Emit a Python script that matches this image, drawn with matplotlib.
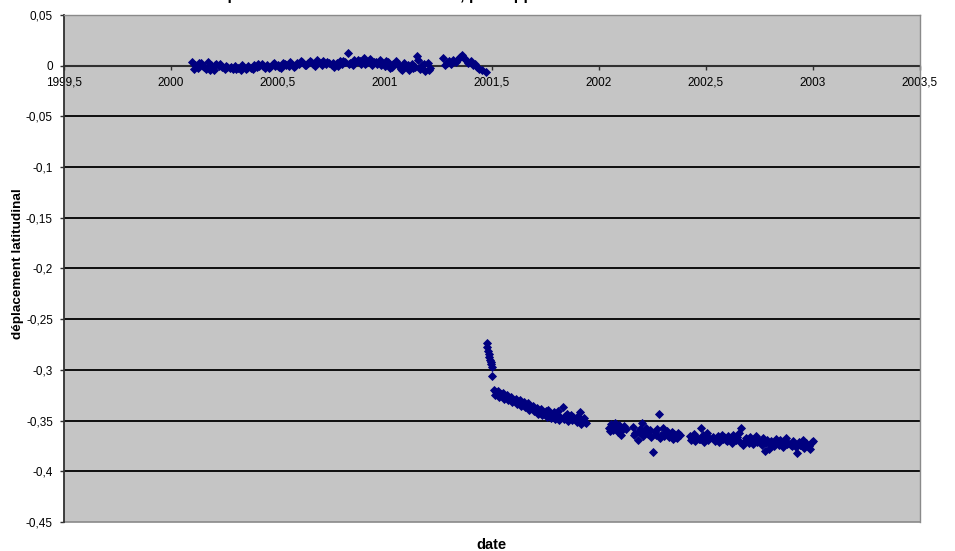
import matplotlib
matplotlib.use("Agg")
import matplotlib.pyplot as plt
from matplotlib.ticker import FixedLocator, FuncFormatter

plt.rcParams['font.family'] = ['Liberation Sans', 'DejaVu Sans']

# ---------------- data (decimal years, latitudinal displacement) ----------------
x_a = [2000.100, 2000.112, 2000.125, 2000.138, 2000.150, 2000.162, 2000.175, 2000.188, 2000.200, 2000.212,
       2000.225, 2000.238, 2000.250, 2000.262, 2000.275, 2000.288, 2000.300, 2000.312, 2000.325, 2000.338,
       2000.350, 2000.362, 2000.375, 2000.388, 2000.400, 2000.412, 2000.425, 2000.438, 2000.450, 2000.462,
       2000.475, 2000.488, 2000.500, 2000.512, 2000.525, 2000.538, 2000.550, 2000.562, 2000.575, 2000.588,
       2000.600, 2000.612, 2000.625, 2000.638, 2000.650, 2000.662, 2000.675, 2000.688, 2000.700, 2000.712,
       2000.725, 2000.738, 2000.750, 2000.762, 2000.775, 2000.788, 2000.800, 2000.812, 2000.825, 2000.838,
       2000.850, 2000.862, 2000.875, 2000.888, 2000.900, 2000.912, 2000.925, 2000.938, 2000.950, 2000.962,
       2000.975, 2000.988, 2001.000, 2001.012, 2001.025, 2001.038, 2001.050, 2001.062, 2001.075, 2001.088,
       2001.100, 2001.112, 2001.125, 2001.138, 2001.150, 2001.162, 2001.175, 2001.188, 2001.200, 2001.212]
y_a = [0.004, 0.001, -0.002, 0.003, 0.000, -0.003, 0.004, 0.001, -0.004, 0.002,
       0.000, -0.001, -0.003, -0.001, -0.002, -0.003, 0.000, -0.002, -0.004, -0.001,
       -0.003, 0.000, -0.002, 0.001, -0.001, 0.000, 0.002, -0.002, 0.001, -0.001,
       0.002, 0.000, 0.001, -0.002, 0.003, 0.001, 0.000, 0.002, -0.001, 0.003,
       0.002, 0.004, 0.001, 0.003, 0.005, 0.002, 0.000, 0.004, 0.003, 0.005,
       0.002, 0.003, 0.001, -0.001, 0.003, 0.005, 0.002, 0.004, 0.013, 0.003,
       0.001, 0.004, 0.006, 0.002, 0.008, 0.003, 0.005, 0.001, 0.004, 0.002,
       0.006, 0.003, 0.000, 0.004, -0.002, 0.002, 0.005, 0.001, -0.003, 0.003,
       0.000, -0.004, 0.002, -0.001, 0.010, -0.003, 0.001, -0.005, 0.003, -0.002]

x_a2 = [2000.106, 2000.131, 2000.156, 2000.181, 2000.206, 2000.231, 2000.256, 2000.281, 2000.306, 2000.331,
        2000.356, 2000.381, 2000.406, 2000.431, 2000.456, 2000.481, 2000.506, 2000.531, 2000.556, 2000.581,
        2000.606, 2000.631, 2000.656, 2000.681, 2000.706, 2000.731, 2000.756, 2000.781, 2000.806, 2000.831,
        2000.856, 2000.881, 2000.906, 2000.931, 2000.956, 2000.981, 2001.006, 2001.031, 2001.056, 2001.081,
        2001.106, 2001.131, 2001.156, 2001.181, 2001.206]
y_a2 = [-0.003, 0.003, -0.001, -0.004, 0.001, 0.002, 0.000, -0.001, -0.003, 0.001,
        -0.002, -0.003, 0.002, 0.000, -0.002, 0.003, -0.001, 0.002, 0.004, 0.000,
        0.005, 0.001, 0.004, 0.006, 0.001, 0.004, 0.003, 0.000, 0.005, 0.002,
        0.006, 0.005, 0.002, 0.007, 0.004, 0.001, 0.005, -0.001, 0.003, -0.004,
        0.001, -0.002, 0.006, 0.002, -0.004]

x_b = [2001.270, 2001.280, 2001.290, 2001.300, 2001.310, 2001.320, 2001.330, 2001.340, 2001.350, 2001.360,
       2001.370, 2001.380, 2001.390, 2001.400, 2001.410, 2001.420, 2001.430, 2001.440, 2001.455, 2001.470]
y_b = [0.008, 0.001, 0.003, 0.005, 0.002, 0.006, 0.004, 0.007, 0.009, 0.011,
       0.008, 0.006, 0.003, 0.005, 0.001, 0.002, -0.001, -0.003, -0.004, -0.006]

x_c = [2001.475, 2001.478, 2001.481, 2001.484, 2001.487, 2001.490, 2001.493, 2001.496, 2001.499, 2001.502]
y_c = [-0.273, -0.277, -0.281, -0.284, -0.287, -0.290, -0.292, -0.294, -0.297, -0.306]

x_d = [2001.510, 2001.520, 2001.530, 2001.540, 2001.550, 2001.560, 2001.570, 2001.580, 2001.590, 2001.600,
       2001.610, 2001.620, 2001.630, 2001.640, 2001.650, 2001.660, 2001.670, 2001.680, 2001.690, 2001.700,
       2001.710, 2001.720, 2001.730, 2001.740, 2001.750, 2001.760, 2001.770, 2001.780, 2001.790, 2001.800,
       2001.810, 2001.820, 2001.830, 2001.840, 2001.850, 2001.860, 2001.870, 2001.880, 2001.890, 2001.900,
       2001.910, 2001.920, 2001.930, 2001.940]
y_d = [-0.320, -0.322, -0.321, -0.324, -0.323, -0.326, -0.325, -0.328, -0.327, -0.330,
       -0.329, -0.332, -0.330, -0.334, -0.332, -0.335, -0.333, -0.337, -0.336, -0.339,
       -0.338, -0.341, -0.339, -0.342, -0.341, -0.340, -0.343, -0.345, -0.342, -0.344,
       -0.341, -0.346, -0.337, -0.345, -0.343, -0.347, -0.344, -0.346, -0.348, -0.345,
       -0.342, -0.349, -0.347, -0.352]

x_d2 = [2001.515, 2001.535, 2001.555, 2001.575, 2001.595, 2001.615, 2001.635, 2001.655, 2001.675, 2001.695,
        2001.715, 2001.735, 2001.755, 2001.775, 2001.795, 2001.815, 2001.835, 2001.855, 2001.875, 2001.895,
        2001.915, 2001.935]
y_d2 = [-0.325, -0.327, -0.329, -0.330, -0.332, -0.334, -0.336, -0.337, -0.340, -0.341,
        -0.343, -0.344, -0.346, -0.347, -0.348, -0.349, -0.348, -0.350, -0.349, -0.351,
        -0.353, -0.351]

x_e = [2002.045, 2002.055, 2002.065, 2002.075, 2002.085, 2002.095, 2002.105, 2002.115, 2002.125,
       2002.160, 2002.170, 2002.180, 2002.190, 2002.200, 2002.210, 2002.220, 2002.230, 2002.240, 2002.250,
       2002.260, 2002.270, 2002.280, 2002.290, 2002.300, 2002.310, 2002.320, 2002.330, 2002.340, 2002.350,
       2002.360, 2002.370, 2002.380]
y_e = [-0.357, -0.353, -0.359, -0.352, -0.356, -0.354, -0.364, -0.355, -0.358,
       -0.356, -0.362, -0.369, -0.358, -0.352, -0.360, -0.357, -0.363, -0.359, -0.381,
       -0.361, -0.358, -0.343, -0.364, -0.357, -0.362, -0.360, -0.365, -0.361, -0.363,
       -0.366, -0.362, -0.364]

x_e2 = [2002.050, 2002.070, 2002.090, 2002.110, 2002.165, 2002.185, 2002.205, 2002.225, 2002.245, 2002.265,
        2002.285, 2002.305, 2002.325, 2002.345, 2002.365]
y_e2 = [-0.360, -0.357, -0.361, -0.358, -0.364, -0.361, -0.365, -0.362, -0.366, -0.364,
        -0.367, -0.365, -0.366, -0.368, -0.367]

x_f = [2002.425, 2002.435, 2002.445, 2002.455, 2002.465, 2002.475, 2002.485, 2002.495, 2002.505, 2002.515,
       2002.535, 2002.545, 2002.555, 2002.565, 2002.575, 2002.585, 2002.595, 2002.605, 2002.615, 2002.625,
       2002.635, 2002.645, 2002.655, 2002.665, 2002.675, 2002.685, 2002.695, 2002.705, 2002.715, 2002.725,
       2002.735, 2002.745, 2002.755, 2002.765, 2002.775, 2002.785, 2002.795, 2002.805, 2002.815, 2002.825,
       2002.835, 2002.845, 2002.855, 2002.865, 2002.875, 2002.885, 2002.895, 2002.905, 2002.915, 2002.925,
       2002.935, 2002.945, 2002.955, 2002.965, 2002.975, 2002.985, 2002.995, 2003.000]
y_f = [-0.365, -0.367, -0.363, -0.366, -0.368, -0.357, -0.364, -0.366, -0.362, -0.367,
       -0.366, -0.368, -0.365, -0.367, -0.364, -0.366, -0.369, -0.365, -0.367, -0.364,
       -0.368, -0.366, -0.362, -0.357, -0.374, -0.367, -0.369, -0.366, -0.370, -0.368,
       -0.365, -0.369, -0.371, -0.367, -0.380, -0.369, -0.378, -0.370, -0.372, -0.368,
       -0.371, -0.369, -0.373, -0.370, -0.367, -0.372, -0.374, -0.370, -0.373, -0.382,
       -0.371, -0.374, -0.369, -0.372, -0.375, -0.378, -0.371, -0.370]

x_f2 = [2002.430, 2002.450, 2002.470, 2002.490, 2002.510, 2002.540, 2002.560, 2002.580, 2002.600, 2002.620,
        2002.640, 2002.660, 2002.680, 2002.700, 2002.720, 2002.740, 2002.760, 2002.780, 2002.800, 2002.820,
        2002.840, 2002.860, 2002.880, 2002.900, 2002.920, 2002.940, 2002.960, 2002.980]
y_f2 = [-0.369, -0.370, -0.368, -0.371, -0.369, -0.370, -0.371, -0.368, -0.370, -0.372,
        -0.369, -0.371, -0.370, -0.372, -0.373, -0.371, -0.374, -0.372, -0.373, -0.375,
        -0.374, -0.376, -0.373, -0.375, -0.376, -0.374, -0.377, -0.375]

x_ticks = [1999.5, 2000.0, 2000.5, 2001.0, 2001.5, 2002.0, 2002.5, 2003.0, 2003.5]
y_ticks = [0.05, 0.0, -0.05, -0.1, -0.15, -0.2, -0.25, -0.3, -0.35, -0.4, -0.45]

title_text = "Déplacement latitudinal de AREA, par rapport à ITRF2000"
x_label = "date"
y_label = "déplacement latitudinal"

# ---------------- figure ----------------
W, H = 955, 551
fig = plt.figure(figsize=(W / 100, H / 100), dpi=100)
ax = fig.add_axes([64 / W, 1 - 522 / H, (920 - 64) / W, (522 - 15) / H])
ax.set_facecolor('#C5C5C5')

xs = x_a + x_a2 + x_b + x_c + x_d + x_d2 + x_e + x_e2 + x_f + x_f2
ys = y_a + y_a2 + y_b + y_c + y_d + y_d2 + y_e + y_e2 + y_f + y_f2
ax.plot(xs, ys, linestyle='none', marker='D', markersize=4.4,
        color='#000080', markeredgecolor='#000080', markeredgewidth=0.6, zorder=3)

ax.set_xlim(x_ticks[0], x_ticks[-1])
ax.set_ylim(y_ticks[-1], y_ticks[0])

# gridlines (inner ticks only)
for yv in y_ticks[2:-1]:
    ax.axhline(yv, color='black', lw=1.3, zorder=1)

def comma_fmt(v, pos=None):
    s = ('%.2f' % v).rstrip('0').rstrip('.')
    if s in ('-0', '+0'):
        s = '0'
    return s.replace('.', ',')

ax.xaxis.set_major_locator(FixedLocator(x_ticks))
ax.yaxis.set_major_locator(FixedLocator(y_ticks))
ax.xaxis.set_major_formatter(FuncFormatter(comma_fmt))
ax.yaxis.set_major_formatter(FuncFormatter(comma_fmt))

ax.spines['bottom'].set_position(('data', 0))
ax.spines['bottom'].set_color('#303030')
ax.spines['bottom'].set_linewidth(1.5)
ax.spines['bottom'].set_zorder(2)
ax.spines['left'].set_color('#303030')
ax.spines['left'].set_linewidth(1.3)
ax.spines['top'].set_color('#8a8a8a')
ax.spines['top'].set_linewidth(1.0)
ax.spines['right'].set_color('#8a8a8a')
ax.spines['right'].set_linewidth(1.0)
# bottom border of plot area
ax.axhline(y_ticks[-1], color='#8a8a8a', lw=1.2, zorder=2, clip_on=False)

ax.tick_params(axis='x', direction='out', length=3, width=1, color='#303030',
               labelsize=8.5, pad=5)
ax.tick_params(axis='y', direction='out', length=3, width=1, color='#303030',
               labelsize=8.5, pad=5)

fig.text(491 / W, 1 - 545 / H, x_label, ha='center', va='center',
         fontsize=10.5, fontweight='bold')
fig.text(18 / W, 1 - 264 / H, y_label, ha='center', va='center', rotation=90,
         fontsize=9.7, fontweight='bold')
fig.text(207 / W, 1 + 0.3 / H, title_text, ha='left', va='baseline',
         fontsize=11.5, fontweight='bold')

fig.savefig('out.png', dpi=100)
